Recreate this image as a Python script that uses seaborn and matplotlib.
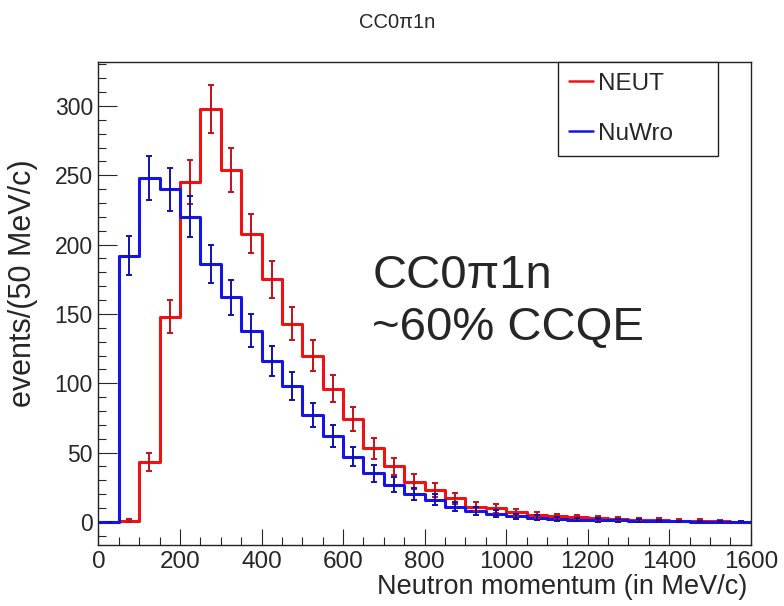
import numpy as np
import pandas as pd
import matplotlib
matplotlib.use("Agg")
import matplotlib.pyplot as plt
from matplotlib.ticker import MultipleLocator
import seaborn as sns

# bins of 50 MeV/c from 0 to 1600
bin_edges = list(range(0, 1650, 50))
bin_centers = [e + 25 for e in bin_edges[:-1]]

neut_counts = [0, 1, 43, 148, 245, 298, 254, 208, 175, 143,
               120, 96, 74, 53, 40, 29, 23, 17, 11, 10,
               7, 5, 4, 3.4, 2.6, 2.0, 1.7, 1.4, 1.0, 1.0,
               0.7, 0.3]
neut_errors = [0, 1, 6.6, 12, 15.7, 17.3, 16, 14.4, 13.2, 12,
               11, 9.8, 8.6, 7.3, 6.3, 5.4, 4.8, 4.1, 3.3, 3.2,
               2.6, 2.2, 2.0, 1.8, 1.6, 1.4, 1.3, 1.2, 1.0, 1.0,
               0.8, 0.5]

nuwro_counts = [0, 192, 248, 240, 220, 186, 162, 138, 116, 98,
                77, 62, 47, 35, 27, 20, 16, 11, 8, 6,
                4, 3, 2, 1.7, 1.4, 1.2, 1.0, 0.7, 0.4, 0.3,
                0.2, 0.1]
nuwro_errors = [0, 13.9, 15.7, 15.5, 14.8, 13.6, 12.7, 11.7, 10.8, 9.9,
                8.8, 7.9, 6.9, 5.9, 5.2, 4.5, 4.0, 3.3, 2.8, 2.4,
                2.0, 1.7, 1.4, 1.3, 1.2, 1.1, 1.0, 0.8, 0.6, 0.5,
                0.4, 0.3]

sns.set_style("ticks")
plt.rcParams["font.family"] = ["Liberation Sans", "DejaVu Sans"]

fig = plt.figure(figsize=(7.84, 6.06), dpi=100)
ax = fig.add_axes([0.1256, 0.1007, 0.832, 0.797])

series = [
    ("NEUT", neut_counts, neut_errors, "#f01212", "#c81018"),
    ("NuWro", nuwro_counts, nuwro_errors, "#1414e6", "#1010b0"),
]
for name, counts, errs, col, ecol in series:
    df = pd.DataFrame({"p": bin_centers, "w": counts})
    sns.histplot(data=df, x="p", weights="w", bins=bin_edges,
                 element="step", fill=False, color=col, linewidth=2.2,
                 label=name, ax=ax)
    ax.errorbar(bin_centers, counts, yerr=errs, fmt="none", ecolor=ecol,
                elinewidth=1.4, capsize=2.3, capthick=1.4, zorder=3)

ax.set_xlim(0, 1600)
ax.set_ylim(-16.6, 331.7)
ax.xaxis.set_major_locator(MultipleLocator(200))
ax.xaxis.set_minor_locator(MultipleLocator(50))
ax.yaxis.set_major_locator(MultipleLocator(50))
ax.yaxis.set_minor_locator(MultipleLocator(10))
ax.tick_params(axis="x", which="major", direction="in", length=11.5,
               width=0.8, labelsize=17.5, pad=4)
ax.tick_params(axis="x", which="minor", direction="in", length=5.5, width=0.8)
ax.tick_params(axis="y", which="major", direction="in", length=13.5,
               width=0.8, labelsize=16.5, pad=4)
ax.tick_params(axis="y", which="minor", direction="in", length=5.8, width=0.8)
for sp in ax.spines.values():
    sp.set_linewidth(1.0)
    sp.set_color("#222222")

ax.set_xlabel("Neutron momentum (in MeV/c)", fontsize=19.5, ha="right")
ax.xaxis.set_label_coords(0.995, -0.061)
ax.xaxis.label.set_va("top")
ax.set_ylabel("events/(50 MeV/c)", fontsize=22)
ax.yaxis.set_label_coords(-0.093, 0.542)

ax.text(672, 169, "CC0\u03c01n", fontsize=34, va="baseline", ha="left")
ax.text(672, 131, "~60% CCQE", fontsize=34, va="baseline", ha="left")

fig.text(0.506, 0.963, "CC0\u03c01n", fontsize=14.5, ha="center", va="center")

handles, labels = ax.get_legend_handles_labels()
leg = ax.legend(handles, labels, loc="upper left", mode="expand",
                bbox_to_anchor=(558 / 784, 1 - 62 / 606, 160 / 784, 0),
                bbox_transform=fig.transFigure, fontsize=17.5,
                handlelength=1.0, handletextpad=0.2, labelspacing=1.15,
                borderpad=0.45, borderaxespad=0, fancybox=False,
                frameon=True, framealpha=1)
leg.get_frame().set_edgecolor("#222222")
leg.get_frame().set_linewidth(1.0)
for line in leg.get_lines():
    line.set_linewidth(1.8)

fig.savefig("out.png", dpi=100)
